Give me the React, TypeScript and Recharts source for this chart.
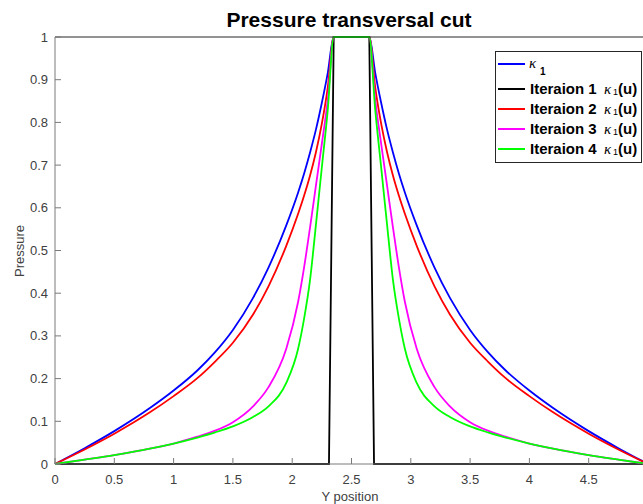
import React from 'react';
import { LineChart, Line, XAxis, YAxis, Legend } from 'recharts';

// sample positions shared by the four smooth curves
const yPosition = [
  0, 0.25, 0.5, 0.8, 1, 1.2, 1.35, 1.5, 1.67, 1.8, 1.95, 2.05, 2.1, 2.15, 2.2, 2.25, 2.3, 2.35,
  2.65, 2.7, 2.75, 2.8, 2.85, 2.9, 2.95, 3.05, 3.2, 3.33, 3.5, 3.65, 3.8, 4, 4.2, 4.5, 4.75, 5,
];

const kappa1 = [
  0, 0.037, 0.077, 0.131, 0.172, 0.219, 0.262, 0.314, 0.389, 0.46, 0.559, 0.636, 0.68, 0.729, 0.783, 0.846, 0.916, 1,
  1, 0.916, 0.846, 0.783, 0.729, 0.68, 0.636, 0.559, 0.46, 0.389, 0.314, 0.262, 0.219, 0.172, 0.131, 0.077, 0.037, 0,
];
const iter2 = [
  0, 0.034, 0.071, 0.121, 0.159, 0.201, 0.24, 0.284, 0.35, 0.416, 0.511, 0.586, 0.628, 0.675, 0.73, 0.797, 0.882, 1,
  1, 0.882, 0.797, 0.73, 0.675, 0.628, 0.586, 0.511, 0.416, 0.35, 0.284, 0.24, 0.201, 0.159, 0.121, 0.071, 0.034, 0,
];
const iter3 = [
  0, 0.0103, 0.021, 0.036, 0.048, 0.064, 0.078, 0.098, 0.135, 0.18, 0.27, 0.38, 0.46, 0.553, 0.652, 0.75, 0.853, 1,
  1, 0.853, 0.75, 0.652, 0.553, 0.46, 0.38, 0.27, 0.18, 0.135, 0.098, 0.078, 0.064, 0.048, 0.036, 0.021, 0.0103, 0,
];
const iter4 = [
  0, 0.0103, 0.021, 0.036, 0.048, 0.062, 0.074, 0.088, 0.11, 0.135, 0.19, 0.27, 0.34, 0.43, 0.56, 0.695, 0.83, 1,
  1, 0.83, 0.695, 0.56, 0.43, 0.34, 0.27, 0.19, 0.135, 0.11, 0.088, 0.074, 0.062, 0.048, 0.036, 0.021, 0.0103, 0,
];

// iteration 1 is a step
const iter1X = [0, 2.31, 2.35, 2.65, 2.69, 5];
const iter1 = [0, 0, 1, 1, 0, 0];

const xTicks = [0, 0.5, 1, 1.5, 2, 2.5, 3, 3.5, 4, 4.5, 5];
const yTicks = [0, 0.1, 0.2, 0.3, 0.4, 0.5, 0.6, 0.7, 0.8, 0.9, 1];

const toPoints = (xs: number[], ys: number[]) => xs.map((x, i) => ({ x, y: ys[i] }));

const FONT = '"Liberation Sans", Arial, Helvetica, sans-serif';
const AXIS = '#7a7a7a';
const TEXT = '#404040';

const BottomTick = ({ x, y, payload }: any) => (
  <g>
    <line x1={x} x2={x} y1={y} y2={y - 6} stroke={AXIS} />
    <text x={x} y={y + 20} textAnchor="middle" fontSize={13} fill={TEXT} fontFamily={FONT}>
      {String(payload.value)}
    </text>
  </g>
);

const LeftTick = ({ x, y, payload }: any) => (
  <g>
    <line x1={x} x2={x + 6} y1={y} y2={y} stroke={AXIS} />
    <text x={x - 7} y={y + 4.5} textAnchor="end" fontSize={13} fill={TEXT} fontFamily={FONT}>
      {String(payload.value)}
    </text>
  </g>
);

const TopTick = ({ x, y }: any) => <line x1={x} x2={x} y1={y} y2={y + 6} stroke={AXIS} />;
const RightTick = ({ x, y }: any) => <line x1={x} x2={x - 6} y1={y} y2={y} stroke={AXIS} />;

const Title = () => (
  <text x={349} y={27} textAnchor="middle" fontSize={21} fontWeight="bold" fill="#000" fontFamily={FONT}>
    Pressure transversal cut
  </text>
);

const XTitle = () => (
  <text x={350} y={501} textAnchor="middle" fontSize={13} fill={TEXT} fontFamily={FONT}>
    Y position
  </text>
);

const YTitle = () => (
  <text transform="translate(24,251) rotate(-90)" textAnchor="middle" fontSize={13} fill={TEXT} fontFamily={FONT}>
    Pressure
  </text>
);

const kappaStyle = { fontFamily: '"Liberation Serif", "DejaVu Serif", serif', fontStyle: 'italic', fontWeight: 'normal', fontSize: 15 } as const;

const LegendBox = ({ payload }: any) => {
  const rowsY = [13, 38, 58, 78, 98];
  const colorOf = (key: string) => (payload || []).find((p: any) => p.dataKey === key || p.value === key)?.color;
  const keys = ['k1', 'it1', 'it2', 'it3', 'it4'];
  return (
    <svg width={147} height={112} style={{ display: 'block' }}>
      <rect x={0.5} y={0.5} width={146} height={111} fill="#fff" stroke="#262626" />
      {keys.map((k, i) => (
        <line key={k} x1={3} x2={30} y1={rowsY[i]} y2={rowsY[i]} stroke={colorOf(k)} strokeWidth={2} />
      ))}
      <text x={34} y={16.5} fill="#000" {...kappaStyle}>κ</text>
      <text x={45} y={24} fill="#000" fontSize={10} fontWeight="bold" fontFamily={FONT}>1</text>
      {[1, 2, 3, 4].map((n, i) => (
        <g key={n}>
          <text x={35} y={rowsY[i + 1] + 5} fill="#000" fontSize={15} fontWeight="bold" fontFamily={FONT}>
            {`Iteraion ${n}`}
          </text>
          <text x={109} y={rowsY[i + 1] + 5} fill="#000" {...kappaStyle}>κ</text>
          <text x={118} y={rowsY[i + 1] + 5.5} fill="#000" fontSize={9} fontFamily={FONT}>1</text>
          <text x={123} y={rowsY[i + 1] + 5} fill="#000" fontSize={15} fontWeight="bold" fontFamily={FONT}>(u)</text>
        </g>
      ))}
    </svg>
  );
};

export default function App() {
  // the figure is cropped on the right: the plot box runs to x = 5, just past the image edge
  return (
    <div style={{ position: 'absolute', left: 0, top: 0, width: 643, height: 504, overflow: 'hidden', background: '#fff' }}>
      <LineChart width={649} height={504} margin={{ top: 36, right: 0, bottom: 10, left: 0 }}>
        <XAxis
          dataKey="x"
          type="number"
          domain={[0, 5]}
          ticks={xTicks.slice(0, -1)}
          interval={0}
          tickSize={0}
          tickMargin={0}
          tickLine={false}
          tick={<BottomTick />}
          axisLine={{ stroke: AXIS }}
          height={30}
          label={<XTitle />}
        />
        <XAxis
          xAxisId="top"
          orientation="top"
          type="number"
          domain={[0, 5]}
          ticks={xTicks.slice(0, -1)}
          interval={0}
          tickSize={0}
          tickMargin={0}
          tickLine={false}
          tick={<TopTick />}
          axisLine={{ stroke: '#262626' }}
          height={1}
          label={<Title />}
        />
        <YAxis
          type="number"
          domain={[0, 1]}
          ticks={yTicks}
          interval={0}
          tickSize={0}
          tickMargin={0}
          tickLine={false}
          tick={<LeftTick />}
          axisLine={{ stroke: AXIS }}
          width={55}
          label={<YTitle />}
        />
        <YAxis
          yAxisId="right"
          orientation="right"
          type="number"
          domain={[0, 1]}
          ticks={yTicks}
          interval={0}
          tickSize={0}
          tickMargin={0}
          tickLine={false}
          tick={<RightTick />}
          axisLine={{ stroke: AXIS }}
          width={1}
        />
        <Legend
          layout="vertical"
          align="center"
          verticalAlign="middle"
          content={<LegendBox />}
          wrapperStyle={{ position: 'absolute', left: 495, top: 51, width: 147, height: 112 }}
        />
        <Line name="k1" data={toPoints(yPosition, kappa1)} dataKey="y" type="monotone" stroke="#0000ff" strokeWidth={1.8} dot={false} isAnimationActive={false} />
        <Line name="it1" data={toPoints(iter1X, iter1)} dataKey="y" type="linear" stroke="#000000" strokeWidth={1.8} dot={false} isAnimationActive={false} />
        <Line name="it2" data={toPoints(yPosition, iter2)} dataKey="y" type="monotone" stroke="#ff0000" strokeWidth={1.8} dot={false} isAnimationActive={false} />
        <Line name="it3" data={toPoints(yPosition, iter3)} dataKey="y" type="monotone" stroke="#ff00ff" strokeWidth={1.8} dot={false} isAnimationActive={false} />
        <Line name="it4" data={toPoints(yPosition, iter4)} dataKey="y" type="monotone" stroke="#00ff00" strokeWidth={1.8} dot={false} isAnimationActive={false} />
      </LineChart>
    </div>
  );
}
